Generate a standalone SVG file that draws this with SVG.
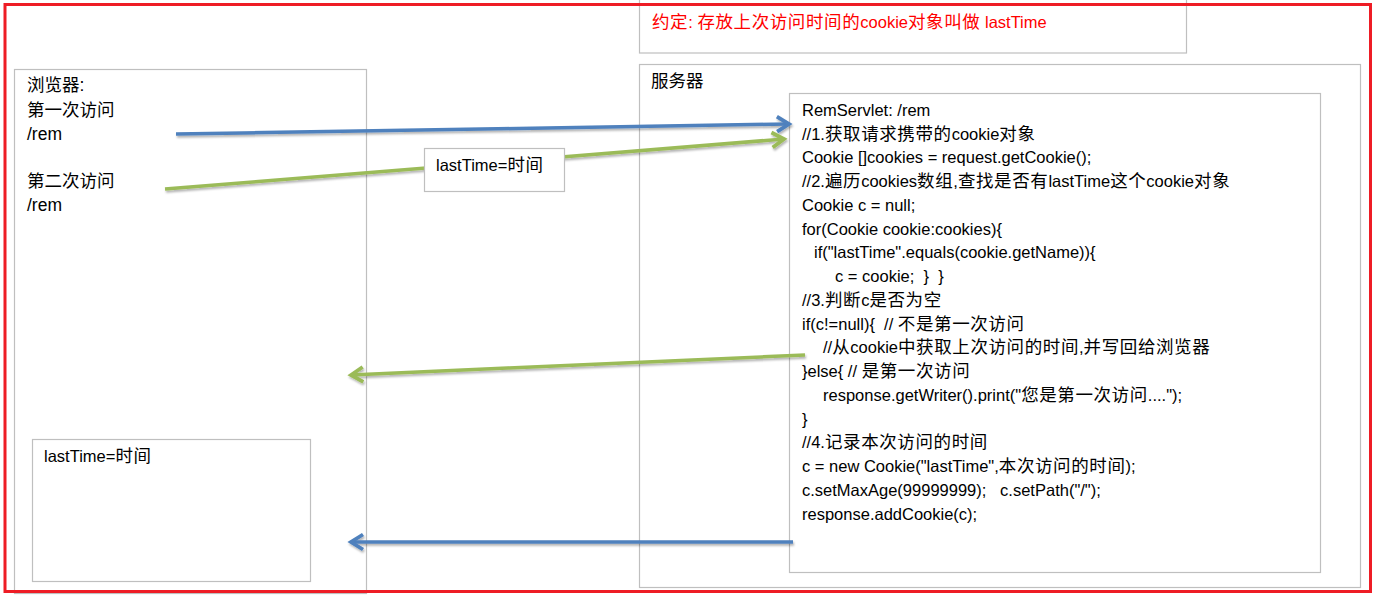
<svg xmlns="http://www.w3.org/2000/svg" width="1376" height="596" viewBox="0 0 1376 596">
<style>
.box{fill:none;stroke:#BFBFBF;stroke-width:1.2}
.wbox{fill:#fff;stroke:#BFBFBF;stroke-width:1.2}
.t{font-family:"Liberation Sans","Noto Sans CJK SC",sans-serif;fill:#000;white-space:pre}
.lt{font-size:17.5px}
.ct{font-size:16.5px}
.lb{font-size:16.5px}
.note{font-size:16.5px;fill:#FF0000}
.c{font-size:17.5px;letter-spacing:0.6px}
.blue{stroke:#4F81BD;stroke-width:3.5;fill:none;marker-end:url(#ab)}
.green{stroke:#9BBB59;stroke-width:3.5;fill:none;marker-end:url(#ag)}
</style>
<defs>
<filter id="sh" x="-5%" y="-50%" width="110%" height="200%">
<feDropShadow dx="1" dy="2" stdDeviation="1" flood-color="#000" flood-opacity="0.3"/>
</filter>
<marker id="ab" markerUnits="userSpaceOnUse" markerWidth="22" markerHeight="22" viewBox="0 0 22 22" refX="16" refY="11" orient="auto">
<path d="M4,3.5 L16,11 L4,18.5" fill="none" stroke="#4F81BD" stroke-width="3.8" stroke-linejoin="miter"/>
</marker>
<marker id="ag" markerUnits="userSpaceOnUse" markerWidth="22" markerHeight="22" viewBox="0 0 22 22" refX="16" refY="11" orient="auto">
<path d="M4,3.5 L16,11 L4,18.5" fill="none" stroke="#9BBB59" stroke-width="3.8" stroke-linejoin="miter"/>
</marker>
</defs>
<rect x="0" y="0" width="1376" height="596" fill="#fff"/>

<g id="note">
<rect class="box" x="639.5" y="-2" width="547" height="55"/>
<text class="t note" x="652" y="28"><tspan class="c">约定</tspan>: <tspan class="c">存放上次访问时间的</tspan>cookie<tspan class="c">对象叫做</tspan> lastTime</text>
</g>

<g id="browser">
<rect class="box" x="14.5" y="69.5" width="352" height="524"/>
<text class="t lt" x="27" y="91">浏览器:</text>
<text class="t lt" x="27" y="116">第一次访问</text>
<text class="t lt" x="27" y="140">/rem</text>
<text class="t lt" x="27" y="187">第二次访问</text>
<text class="t lt" x="27" y="211">/rem</text>
</g>

<g id="server">
<rect class="box" x="639.5" y="64.5" width="721" height="523"/>
<text class="t lt" x="651" y="87">服务器</text>
</g>

<g id="servlet">
<rect class="box" x="789.5" y="93.5" width="531" height="479"/>
<text class="t ct" x="802" y="115.7">RemServlet: /rem</text>
<text class="t ct" x="802" y="139.5">//1.<tspan class="c">获取请求携带的</tspan>cookie<tspan class="c">对象</tspan></text>
<text class="t ct" x="802" y="163.2">Cookie []cookies = request.getCookie();</text>
<text class="t ct" x="802" y="187">//2.<tspan class="c">遍历</tspan>cookies<tspan class="c">数组</tspan>,<tspan class="c">查找是否有</tspan>lastTime<tspan class="c">这个</tspan>cookie<tspan class="c">对象</tspan></text>
<text class="t ct" x="802" y="210.7">Cookie c = null;</text>
<text class="t ct" x="802" y="234.5">for(Cookie cookie:cookies){</text>
<text class="t ct" x="814" y="258.2">if("lastTime".equals(cookie.getName)){</text>
<text class="t ct" x="835" y="282">c = cookie;  }  }</text>
<text class="t ct" x="802" y="305.7">//3.<tspan class="c">判断</tspan>c<tspan class="c">是否为空</tspan></text>
<text class="t ct" x="802" y="329.5">if(c!=null){  // <tspan class="c">不是第一次访问</tspan></text>
<text class="t ct" x="823" y="353.2">//<tspan class="c">从</tspan>cookie<tspan class="c">中获取上次访问的时间</tspan>,<tspan class="c">并写回给浏览器</tspan></text>
<text class="t ct" x="802" y="377">}else{ // <tspan class="c">是第一次访问</tspan></text>
<text class="t ct" x="823" y="400.7">response.getWriter().print("<tspan class="c">您是第一次访问</tspan>....");</text>
<text class="t ct" x="802" y="424.5">}</text>
<text class="t ct" x="802" y="448.2">//4.<tspan class="c">记录本次访问的时间</tspan></text>
<text class="t ct" x="802" y="472">c = new Cookie("lastTime",<tspan class="c">本次访问的时间</tspan>);</text>
<text class="t ct" x="802" y="495.7">c.setMaxAge(99999999);   c.setPath("/");</text>
<text class="t ct" x="802" y="519.5">response.addCookie(c);</text>
</g>

<g id="connectors" filter="url(#sh)">
<path class="blue" d="M176,134 L789,124"/>
<path class="green" d="M165,189 L784,139"/>
<path class="green" d="M805,355 L351,375"/>
<path class="blue" d="M793,542 L351,542"/>
</g>

<g id="cookie-label">
<rect class="wbox" x="424.5" y="148.5" width="140" height="43"/>
<text class="t lb" x="436" y="171">lastTime=<tspan class="c">时间</tspan></text>
</g>

<g id="browser-cookie">
<rect class="box" x="32.5" y="439.5" width="278" height="142"/>
<text class="t lb" x="44" y="462">lastTime=<tspan class="c">时间</tspan></text>
</g>

<rect x="5" y="4.5" width="1365.5" height="587" fill="none" stroke="#EE1C25" stroke-width="3"/>
</svg>
